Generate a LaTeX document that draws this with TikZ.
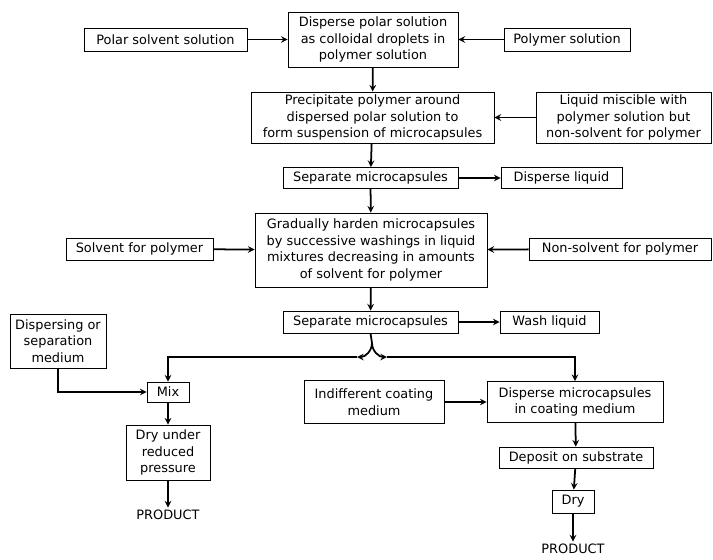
\documentclass[tikz,border=0pt]{standalone}
\usepackage{fontspec}
\setmainfont{DejaVu Sans}
\usetikzlibrary{shapes,arrows}
\tikzstyle{box} = [rectangle, draw=black, line width=0.7pt, inner sep=1pt, align=center, font=\fontsize{11}{14}\selectfont]
\tikzstyle{plain} = [inner sep=2pt, font=\fontsize{11}{14}\selectfont]
\tikzstyle{arrow} = [line width=1.5pt,->,>=stealth]
\tikzstyle{line} = [line width=1.5pt]

\begin{document}
\begin{tikzpicture}[x=0.03cm,y=-0.03cm]
\useasboundingbox (0,0) rectangle (713,559);
% nodes
\node (disperse) [box, minimum width=5.1cm, minimum height=1.65cm] at (373,39.5) {Disperse polar solution\\as colloidal droplets in\\polymer solution};
\node (polar) [box, minimum width=4.89cm, minimum height=0.69cm] at (165.5,39.5) {Polar solvent solution};
\node (polymer) [box, minimum width=3.78cm, minimum height=0.69cm] at (567,39.5) {Polymer solution};

\node (precip) [box, minimum width=7.29cm, minimum height=1.53cm] at (372.5,117.5) {Precipitate polymer around\\dispersed polar solution to\\form suspension of microcapsules};
\node (miscible) [box, minimum width=5.25cm, minimum height=1.53cm] at (623.5,117.5) {Liquid miscible with\\polymer solution but\\non-solvent for polymer};

\node (sep1) [box, minimum width=5.25cm, minimum height=0.63cm] at (370.5,178) {Separate microcapsules};
\node (dliquid) [box, minimum width=3.63cm, minimum height=0.63cm] at (561.5,178) {Disperse liquid};

\node (harden) [box, minimum width=6.96cm, minimum height=2.22cm] at (371,250) {Gradually harden microcapsules\\by successive washings in liquid\\mixtures decreasing in amounts\\of solvent for polymer};
\node (solvent) [box, minimum width=4.41cm, minimum height=0.66cm] at (139.5,249) {Solvent for polymer};
\node (nonsolv) [box, minimum width=5.46cm, minimum height=0.66cm] at (620,249) {Non-solvent for polymer};

\node (sep2) [box, minimum width=5.25cm, minimum height=0.66cm] at (370.5,322) {Separate microcapsules};
\node (wash) [box, minimum width=2.97cm, minimum height=0.66cm] at (549.5,322) {Wash liquid};

\node (medium) [box, minimum width=2.88cm, minimum height=1.62cm] at (58,341) {Dispersing or\\separation\\medium};
\node (mix) [box, minimum width=1.26cm, minimum height=0.6cm] at (168,392) {Mix};
\node (dryred) [box, minimum width=2.52cm, minimum height=1.65cm] at (168,452.5) {Dry under\\reduced\\pressure};
\node (prodl) [plain] at (168,515) {PRODUCT};

\node (indiff) [box, minimum width=4.2cm, minimum height=1.29cm] at (374,402) {Indifferent coating\\medium};
\node (coat) [box, minimum width=5.28cm, minimum height=1.23cm] at (575,402) {Disperse microcapsules\\in coating medium};
\node (deposit) [box, minimum width=4.62cm, minimum height=0.63cm] at (576,457.5) {Deposit on substrate};
\node (dry) [box, minimum width=1.26cm, minimum height=0.69cm] at (573,501.5) {Dry};
\node (prodr) [plain] at (573,549) {PRODUCT};

\coordinate (fork) at (372,343);
\coordinate (jl) at (357,357);
\coordinate (jr) at (387,357);

%edges
\draw [arrow] (polar) -- (disperse);
\draw [arrow] (polymer) -- (disperse);
\draw [arrow] (disperse) -- (precip);
\draw [arrow] (miscible) -- (precip);
\draw [arrow] (precip) -- (sep1);
\draw [arrow] (sep1) -- (dliquid);
\draw [arrow] (sep1) -- (harden);
\draw [arrow] (solvent) -- (harden);
\draw [arrow] (nonsolv) -- (harden);
\draw [arrow] (harden) -- (sep2);
\draw [arrow] (sep2) -- (wash);

\draw [line] (sep2.south) -- (fork);
\draw [arrow] (fork) to[out=-90,in=0] (jl);
\draw [arrow] (fork) to[out=-90,in=180] (jr);
\draw [arrow] (jl) -| (mix);
\draw [arrow] (jr) -| (coat);

\draw [arrow] (medium.south) |- (mix.west);
\draw [arrow] (mix) -- (dryred);
\draw [arrow] (dryred) -- (prodl);

\draw [arrow] (indiff) -- (coat);
\draw [arrow] (coat) -- (deposit);
\draw [arrow] (deposit) -- (dry);
\draw [arrow] (dry) -- (prodr);

\end{tikzpicture}
\end{document}
